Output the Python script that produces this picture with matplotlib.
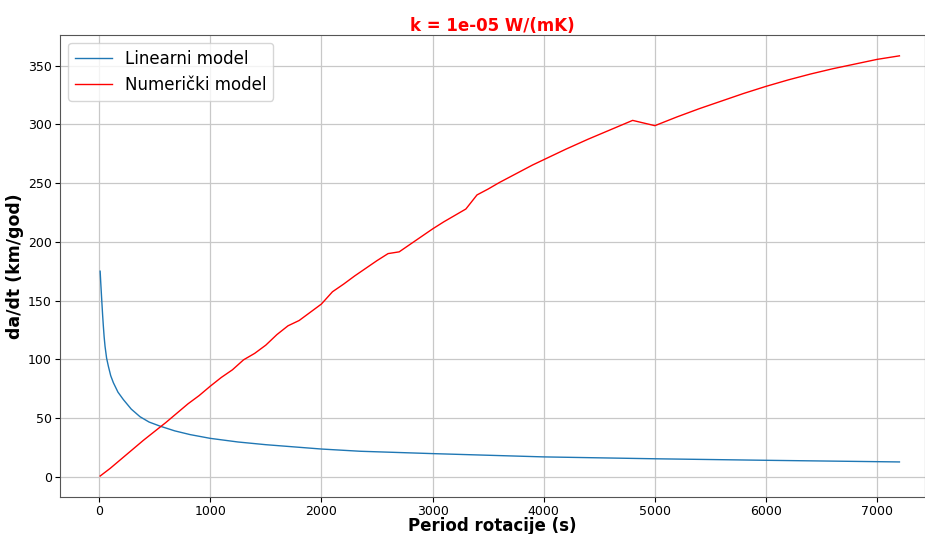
import numpy as np
import matplotlib.pyplot as plt

# Period rotacije (s) i brzine promjene (km/god)
period_lin = [10, 15, 24, 32, 39, 46, 54, 68, 84, 105, 129, 170, 219, 290, 369,
              450, 549, 680, 819, 1000, 1250, 1500, 2000, 2350, 3000, 4000,
              5000, 6000, 7200]
dadt_lin = [175, 166, 151, 138, 128, 119, 111, 101, 94, 86, 80, 72, 65.6, 57.5,
            51, 46.5, 43, 39, 35.8, 32.6, 29.5, 27.2, 23.5, 21.6, 19.6, 16.8,
            15.2, 13.9, 12.5]

period_num = [10, 100, 200, 300, 400, 500, 600, 700, 800, 900, 1000, 1100, 1200,
              1300, 1400, 1500, 1600, 1700, 1800, 1900, 2000, 2100, 2200, 2300,
              2400, 2500, 2600, 2700, 2800, 2900, 3000, 3100, 3200, 3300, 3400,
              3500, 3600, 3700, 3800, 3900, 4000, 4200, 4400, 4600, 4800, 5000,
              5200, 5400, 5600, 5800, 6000, 6200, 6400, 6600, 6800, 7000, 7200]
dadt_num = [0.5, 7, 15, 23, 31, 38.5, 46, 54, 62, 69, 77, 84.5, 91, 99.5, 105,
            112, 121, 128.5, 133, 140, 147, 157.5, 164, 171, 177.5, 184, 190,
            191.5, 198, 204.5, 211, 217, 222.5, 228, 240, 245, 250.5, 255.5,
            260.5, 265.5, 270, 279, 287.5, 295.5, 303.5, 299, 306.5, 313.5, 320,
            326.5, 332.5, 338, 343, 347.5, 351.5, 355.5, 358.5]

fig = plt.figure(figsize=(9.25, 5.34), dpi=100)
ax = fig.add_axes([0.065, 0.069, 0.935, 0.866])

ax.plot(period_lin, dadt_lin, color='tab:blue', lw=1, label="Linearni model")
ax.plot(period_num, dadt_num, color='red', lw=1, label="Numerički model")

ax.set_xlim(-350, 7430)
ax.set_ylim(-17.5, 376.5)
ax.set_xticks(np.arange(0, 7001, 1000))
ax.set_yticks(np.arange(0, 351, 50))
ax.grid(True, color='#c8c8c8', lw=0.9)
ax.tick_params(labelsize=9, pad=2.5)
for s in ax.spines.values():
    s.set_color('#555555')

ax.set_title("k = 1e-05 W/(mK)", color='red', fontsize=12, fontweight='bold', pad=3)
ax.set_xlabel("Period rotacije (s)", fontsize=12, fontweight='bold', labelpad=-1)
ax.set_ylabel("da/dt (km/god)", fontsize=12.5, fontweight='bold', labelpad=3)
ax.legend(loc='upper left', fontsize=12, handlelength=2.2)

fig.savefig("out.png", dpi=100)
